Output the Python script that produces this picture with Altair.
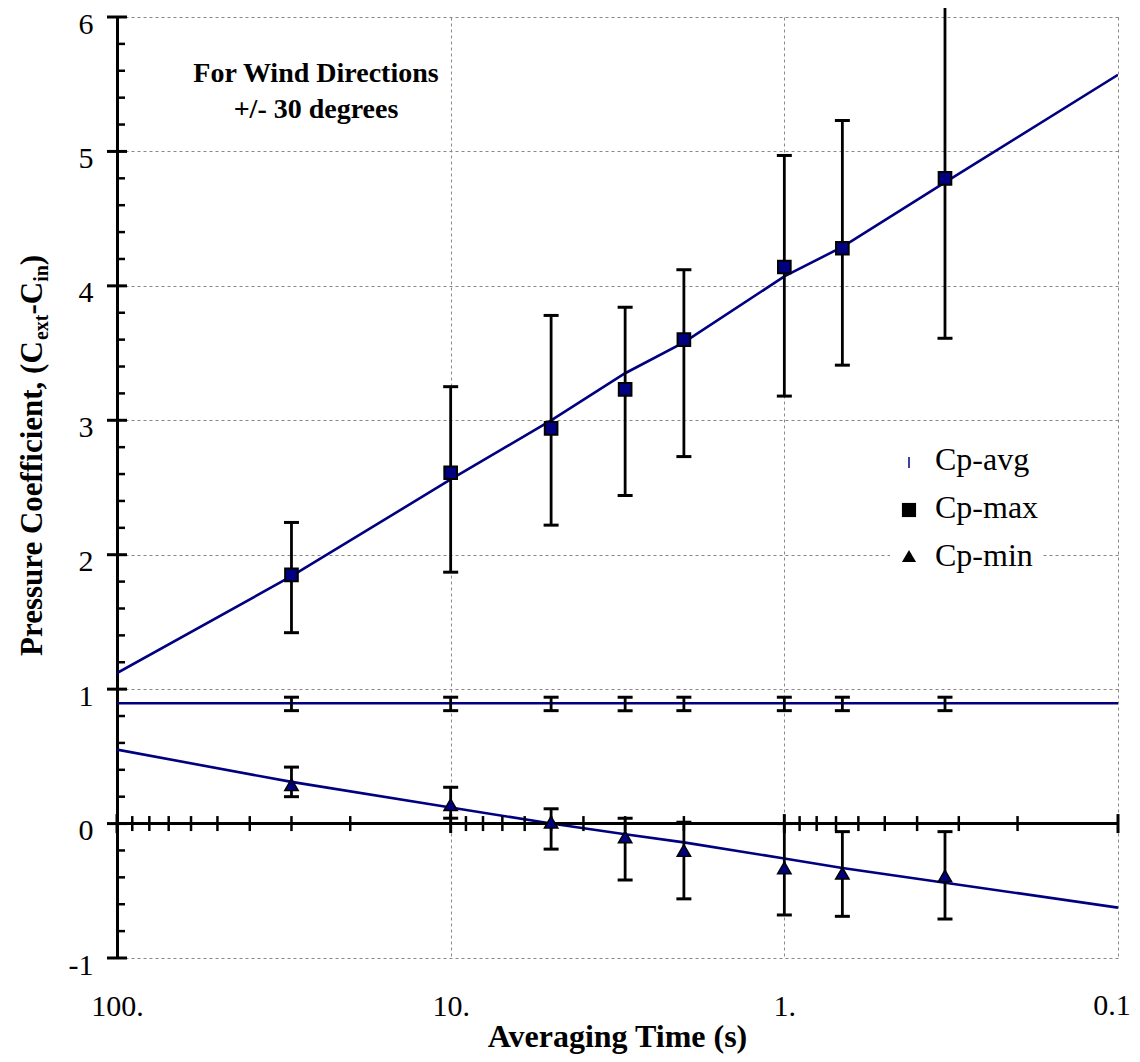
import altair as alt
import pandas as pd

# ---------------- data ----------------
T = [30, 10, 5, 3, 2, 1, 0.67, 0.33]
cp_max = [1.85, 2.61, 2.94, 3.23, 3.60, 4.14, 4.28, 4.80]
cp_max_lo = [1.42, 1.87, 2.22, 2.44, 2.73, 3.18, 3.41, 3.61]
cp_max_hi = [2.24, 3.25, 3.78, 3.84, 4.12, 4.97, 5.23, 6.15]
cp_min = [0.29, 0.14, 0.01, -0.10, -0.20, -0.33, -0.37, -0.39]
cp_min_lo = [0.20, 0.04, -0.19, -0.42, -0.56, -0.68, -0.69, -0.71]
cp_min_hi = [0.42, 0.27, 0.11, 0.04, 0.01, 0.00, -0.06, -0.06]
cp_avg = [0.89, 0.89, 0.89, 0.89, 0.89, 0.89, 0.89, 0.89]
cp_avg_lo = [0.84, 0.84, 0.84, 0.84, 0.84, 0.84, 0.84, 0.84]
cp_avg_hi = [0.94, 0.94, 0.94, 0.94, 0.94, 0.94, 0.94, 0.94]

# fitted trend curves
fit_max_T = [100, 30, 10, 5, 3, 2, 1, 0.67, 0.33, 0.1]
fit_max = [1.12, 1.84, 2.56, 3.00, 3.35, 3.58, 4.07, 4.29, 4.77, 5.57]
fit_min_T = [100, 30, 10, 5, 3, 2, 1, 0.67, 0.33, 0.1]
fit_min = [0.55, 0.31, 0.12, 0.0, -0.08, -0.14, -0.26, -0.33, -0.44, -0.625]
fit_avg_T = [100, 0.1]
fit_avg = [0.895, 0.895]

series_names = ["Cp-avg", "Cp-max", "Cp-min"]

x_tick_values = [100, 10, 1, 0.1]
x_tick_labels = ["100.", "10.", "1.", "0.1"]
x_minor = [90, 80, 70, 60, 50, 40, 30, 20, 9, 8, 7, 6, 5, 4, 3, 2,
           0.9, 0.8, 0.7, 0.6, 0.5, 0.4, 0.3, 0.2]
y_tick_values = [-1, 0, 1, 2, 3, 4, 5, 6]
y_minor = [-0.8, -0.6, -0.4, -0.2, 0.2, 0.4, 0.6, 0.8, 1.2, 1.4, 1.6, 1.8,
           2.2, 2.4, 2.6, 2.8, 3.2, 3.4, 3.6, 3.8, 4.2, 4.4, 4.6, 4.8,
           5.2, 5.4, 5.6, 5.8]

x_title = "Averaging Time (s)"
note_lines = ["For Wind Directions", "+/- 30 degrees"]

# ---------------- styling ----------------
FONT = "Liberation Serif"
NAVY = "#000080"
W, H = 1001, 941

xs = alt.Scale(type="log", domain=[0.1, 100], reverse=True, nice=False)
ys = alt.Scale(domain=[-1, 6], nice=False, zero=False)

# the last x label (at the right edge) is drawn as its own text layer, nudged left
label_expr = " : ".join(
    f"datum.value == {v} ? '{l}'" for v, l in zip(x_tick_values[:-1], x_tick_labels[:-1])
) + " : ''"

xaxis = alt.Axis(values=x_tick_values, labelExpr=label_expr, title=None,
                 grid=True, gridDash=[3, 3], gridColor="#888888", gridWidth=1,
                 domain=False, ticks=False, labelFont=FONT, labelFontSize=30,
                 labelColor="black", labelBaseline="alphabetic", labelPadding=57,
                 labelFlush=False, labelOverlap=False)
yaxis = alt.Axis(values=y_tick_values, labelExpr="datum.value", title=None,
                 grid=True, gridDash=[3, 3], gridColor="#888888", gridWidth=1,
                 domain=True, domainColor="black", domainWidth=3, ticks=False,
                 labelFont=FONT, labelFontSize=30, labelColor="black",
                 labelPadding=24, labelOffset=7, labelFlush=False, labelOverlap=False)


def X(f):
    return alt.X(f, type="quantitative", scale=xs, axis=xaxis)


def Y(f):
    return alt.Y(f, type="quantitative", scale=ys, axis=yaxis)


pts = pd.DataFrame({
    "T": T * 3,
    "v": cp_avg + cp_max + cp_min,
    "lo": cp_avg_lo + cp_max_lo + cp_min_lo,
    "hi": cp_avg_hi + cp_max_hi + cp_min_hi,
    "s": [series_names[0]] * len(T) + [series_names[1]] * len(T) + [series_names[2]] * len(T),
})
fits = pd.DataFrame({
    "T": fit_avg_T + fit_max_T + fit_min_T,
    "v": fit_avg + fit_max + fit_min,
    "s": [series_names[0]] * len(fit_avg_T) + [series_names[1]] * len(fit_max_T)
         + [series_names[2]] * len(fit_min_T),
})

base = alt.Chart(pts)

fit_lines = alt.Chart(fits).mark_line(color=NAVY, strokeWidth=2.6, clip=True).encode(
    x=X("T"), y=Y("v"), detail="s:N", order=alt.Order("T:Q", sort="descending"))

err = base.mark_rule(color="black", strokeWidth=2.8).encode(x=X("T"), y=Y("lo"), y2="hi")
cap_lo = base.mark_tick(orient="horizontal", color="black", size=15, thickness=3,
                        opacity=1).encode(x=X("T"), y=Y("lo"))
cap_hi = base.mark_tick(orient="horizontal", color="black", size=15, thickness=3,
                        opacity=1).encode(x=X("T"), y=Y("hi"))

sq = base.transform_filter(alt.datum.s == series_names[1]).mark_point(
    shape="square", filled=True, fill=NAVY, stroke="black", strokeWidth=2,
    size=160, opacity=1).encode(x=X("T"), y=Y("v"))
tri = base.transform_filter(alt.datum.s == series_names[2]).mark_point(
    shape="triangle-up", filled=True, fill=NAVY, stroke="black", strokeWidth=1.5,
    size=180, opacity=1).encode(x=X("T"), y=Y("v"))

# x axis line drawn through y = 0, with crossing ticks
xline_df = pd.DataFrame({"T": [x_tick_values[0]], "T2": [x_tick_values[-1]], "v": [0]})
xline = alt.Chart(xline_df).mark_rule(color="black", strokeWidth=3).encode(
    x=X("T"), x2="T2", y=Y("v"))
xmaj = alt.Chart(pd.DataFrame({"T": x_tick_values, "v": [0] * len(x_tick_values)})).mark_tick(
    orient="vertical", color="black", size=19, thickness=3, opacity=1).encode(x=X("T"), y=Y("v"))
xmin = alt.Chart(pd.DataFrame({"T": x_minor, "v": [0] * len(x_minor)})).mark_tick(
    orient="vertical", color="black", size=15, thickness=2.5, opacity=1).encode(x=X("T"), y=Y("v"))

# last x tick label
xlast = alt.Chart(pd.DataFrame({"T": x_tick_values[-1:], "lab": x_tick_labels[-1:]})).mark_text(
    font=FONT, fontSize=30, align="center", baseline="alphabetic", dx=-6, color="black"
).encode(x=X("T"), y=alt.value(H + 57), text="lab:N")

# y axis ticks (major crossing, minor inside)
ymaj = alt.Chart(pd.DataFrame({"v": y_tick_values})).mark_tick(
    orient="horizontal", color="black", size=20, thickness=3, opacity=1).encode(
    x=alt.value(0), y=Y("v"))
ymin = alt.Chart(pd.DataFrame({"v": y_minor})).mark_tick(
    orient="horizontal", color="black", size=8, thickness=2.5, opacity=1).encode(
    x=alt.value(4), y=Y("v"))

# legend (inside plot, white box)
leg_bg = alt.Chart(pd.DataFrame({"a": [0]})).mark_rect(color="white").encode(
    x=alt.value(773), x2=alt.value(926), y=alt.value(413), y2=alt.value(563))
leg_avg = alt.Chart(pd.DataFrame({"a": [0]})).mark_rule(color=NAVY, strokeWidth=1.5).encode(
    x=alt.value(792), y=alt.value(440), y2=alt.value(451))
leg_sq = alt.Chart(pd.DataFrame({"a": [0]})).mark_point(
    shape="square", filled=True, color="black", size=200, opacity=1).encode(
    x=alt.value(792), y=alt.value(493))
leg_tri = alt.Chart(pd.DataFrame({"a": [0]})).mark_point(
    shape="triangle-up", filled=True, color="black", size=200, opacity=1).encode(
    x=alt.value(792), y=alt.value(539))
leg_txt = [
    alt.Chart(pd.DataFrame({"a": [0]})).mark_text(
        text=name, font=FONT, fontSize=32, align="left", baseline="alphabetic",
        color="black").encode(x=alt.value(818), y=alt.value(453 + 48 * i))
    for i, name in enumerate(series_names)
]

# annotation
note = alt.Chart(pd.DataFrame({"a": [0]})).mark_text(
    text=note_lines, font=FONT, fontSize=28, fontWeight="bold", align="center",
    baseline="alphabetic", lineHeight=36, color="black").encode(
    x=alt.value(199), y=alt.value(65))

# x title
xt = alt.Chart(pd.DataFrame({"a": [0]})).mark_text(
    text=x_title, font=FONT, fontSize=32, fontWeight="bold", align="center",
    baseline="alphabetic", color="black").encode(x=alt.value(W / 2), y=alt.value(1030))

# y title with subscripts, rotated
BW = {"P": 611, "r": 444, "e": 444, "s": 389, "u": 556, " ": 250, "C": 722, "o": 500,
      "f": 333, "i": 278, "c": 444, "n": 556, "t": 333, ",": 250, "(": 333, ")": 333,
      "x": 500, "-": 333}
segs = [("Pressure Coefficient, (C", 31, 0), ("ext", 20, 6), ("-C", 31, 0),
        ("in", 20, 6), (")", 31, 0)]
ypos = 639
yt_layers = []
for t, sz, sh in segs:
    yt_layers.append(alt.Chart(pd.DataFrame({"a": [0]})).mark_text(
        text=t, font=FONT, fontSize=sz, fontWeight="bold", angle=270, align="left",
        baseline="alphabetic", color="black").encode(x=alt.value(-75 + sh), y=alt.value(ypos)))
    ypos -= sum(BW[c] for c in t) * sz / 1000

chart = alt.layer(
    fit_lines, err, cap_lo, cap_hi, xline, xmin, xmaj, ymaj, ymin, sq, tri, xlast,
    leg_bg, leg_avg, leg_sq, leg_tri, *leg_txt, note, xt, *yt_layers
).properties(
    width=W, height=H,
    autosize=alt.AutoSizeParams(type="none"),
    padding={"left": 109, "top": 9, "right": 14, "bottom": 96},
    background="white",
).configure_view(stroke=None)

chart.save("out.html", embed_options={"renderer": "svg", "actions": False})
